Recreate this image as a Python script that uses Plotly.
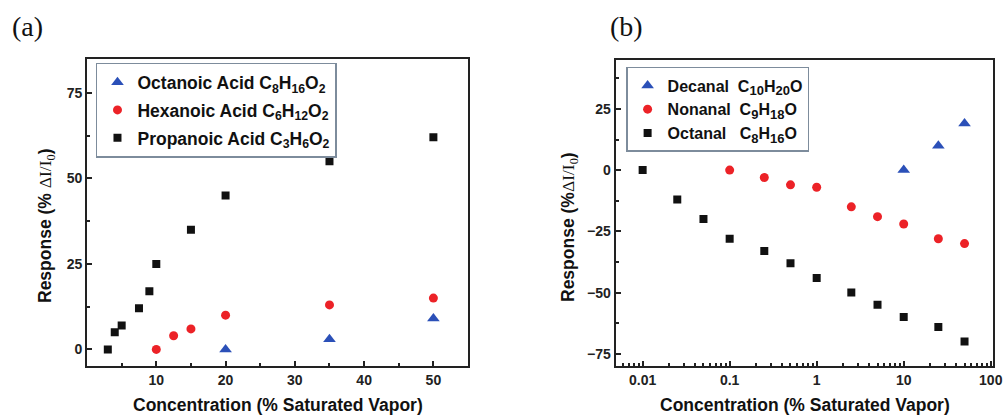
import plotly.graph_objects as go

# ---------------- data: panel (a) ----------------
prop_x = [3, 4, 5, 7.5, 9, 10, 15, 20, 35, 50]
prop_y = [0, 5, 7, 12, 17, 25, 35, 45, 55, 62]
hex_x = [10, 12.5, 15, 20, 35, 50]
hex_y = [0, 4, 6, 10, 13, 15]
oct_acid_x = [20, 35, 50]
oct_acid_y = [0, 3, 9]

# ---------------- data: panel (b) ----------------
octanal_x = [0.01, 0.025, 0.05, 0.1, 0.25, 0.5, 1, 2.5, 5, 10, 25, 50]
octanal_y = [0, -12, -20, -28, -33, -38, -44, -50, -55, -60, -64, -70]
nonanal_x = [0.1, 0.25, 0.5, 1, 2.5, 5, 10, 25, 50]
nonanal_y = [0, -3, -6, -7, -15, -19, -22, -28, -30]
decanal_x = [10, 25, 50]
decanal_y = [0, 10, 19]

a_yticks = [0, 25, 50, 75]
a_xticks = [10, 20, 30, 40, 50]
b_yticks = [-75, -50, -25, 0, 25]
b_xticks = [0.01, 0.1, 1, 10, 100]
b_xticklabels = ["0.01", "0.1", "1", "10", "100"]

BLACK = "#111111"
RED = "#ec2227"
BLUE = "#2b50b8"
FONT = "Arial, Liberation Sans, sans-serif"
SERIF = "Times New Roman, Liberation Serif, serif"

fig = go.Figure()

def add(x, y, name, color, symbol, size, xa, ya, legend, group):
    fig.add_trace(go.Scatter(
        x=x, y=y, mode="markers", name=name,
        marker=dict(color=color, symbol=symbol, size=size, line=dict(width=0)),
        xaxis=xa, yaxis=ya, legend=legend, legendgroup=group,
    ))

def bsub(s):
    return "<sub><span style='font-size:13px'>" + s + "</span></sub>"

add(oct_acid_x, oct_acid_y, "Octanoic Acid C<sub>8</sub>H<sub>16</sub>O<sub>2</sub>", BLUE, "triangle-up", 11, "x", "y", "legend", "a1")
add(hex_x, hex_y, "Hexanoic Acid C<sub>6</sub>H<sub>12</sub>O<sub>2</sub>", RED, "circle", 9, "x", "y", "legend", "a2")
add(prop_x, prop_y, "Propanoic Acid C<sub>3</sub>H<sub>6</sub>O<sub>2</sub>", BLACK, "square", 8, "x", "y", "legend", "a3")

add(decanal_x, decanal_y, "Decanal  C" + bsub("10") + "H" + bsub("20") + "O", BLUE, "triangle-up", 11, "x2", "y2", "legend2", "b1")
add(nonanal_x, nonanal_y, "Nonanal  C" + bsub("9") + "H" + bsub("18") + "O", RED, "circle", 9, "x2", "y2", "legend2", "b2")
add(octanal_x, octanal_y, "Octanal   C" + bsub("8") + "H" + bsub("16") + "O", BLACK, "square", 8, "x2", "y2", "legend2", "b3")

tickfont = dict(family=FONT, size=14, color="#222222", weight="bold")
titlefont = dict(family=FONT, size=17.5, color="#111111", weight="bold")
axline = dict(showline=True, linecolor="#222222", linewidth=2, mirror=True,
              ticks="inside", ticklen=5, tickwidth=1.5, tickcolor="#222222",
              showgrid=False, zeroline=False, tickfont=tickfont, automargin=False)

minor_log = [m * 10.0 ** e for e in range(-3, 2) for m in range(2, 10)]

fig.update_layout(
    width=1005, height=416,
    margin=dict(l=0, r=0, t=0, b=0),
    paper_bgcolor="white", plot_bgcolor="white",
    showlegend=True,
    xaxis=dict(domain=[0.0866, 0.4657], range=[0, 55], anchor="y",
               tickvals=a_xticks,
               minor=dict(dtick=5, ticks="inside", ticklen=3, tickwidth=1.5, tickcolor="#222222"),
               **axline),
    yaxis=dict(domain=[0.119, 0.859], range=[-5, 85], anchor="x",
               tickvals=a_yticks,
               minor=dict(dtick=12.5, ticks="inside", ticklen=3, tickwidth=1.5, tickcolor="#222222"),
               **axline),
    xaxis2=dict(domain=[0.6126, 0.9884], type="log", range=[-2.31, 2.03], anchor="y2",
                tickvals=b_xticks, ticktext=b_xticklabels,
                minor=dict(tickvals=minor_log, ticks="inside", ticklen=3, tickwidth=1.5, tickcolor="#222222"),
                **axline),
    yaxis2=dict(domain=[0.12, 0.856], range=[-80, 45], anchor="x2",
                tickvals=b_yticks,
                minor=dict(dtick=12.5, tick0=0, ticks="inside", ticklen=3, tickwidth=1.5, tickcolor="#222222"),
                **axline),
    legend=dict(x=0.0955, y=0.849, xanchor="left", yanchor="top",
                bgcolor="white", bordercolor="#7d8c9c", borderwidth=1.5,
                font=dict(family=FONT, size=17.5, color="#111111", weight="bold"),
                tracegroupgap=2, traceorder="grouped"),
    legend2=dict(x=0.623, y=0.839, xanchor="left", yanchor="top",
                 bgcolor="white", bordercolor="#7d8c9c", borderwidth=1.5,
                 font=dict(family=FONT, size=16, color="#111111", weight="bold"),
                 tracegroupgap=0, traceorder="grouped"),
)

xtitle = "Concentration (% Saturated Vapor)"
ytitle_a = "Response (% <span style='font-family:Times New Roman, Liberation Serif, serif;font-weight:normal'>ΔI/I<sub>0</sub></span>)"
ytitle_b = "Response (%<span style='font-family:Times New Roman, Liberation Serif, serif;font-weight:normal'>ΔI/I<sub>0</sub></span>)"

fig.add_annotation(text=xtitle, xref="x domain", yref="paper", x=0.5, y=1 - 405 / 416,
                   showarrow=False, font=titlefont, xanchor="center", yanchor="middle")
fig.add_annotation(text=xtitle, xref="x2 domain", yref="paper", x=0.5, y=1 - 405 / 416,
                   showarrow=False, font=titlefont, xanchor="center", yanchor="middle")

fig.add_annotation(text=ytitle_a, xref="paper", yref="paper", x=47 / 1005, y=1 - 226 / 416,
                   textangle=-90, showarrow=False, font=titlefont, xanchor="center", yanchor="middle")
fig.add_annotation(text=ytitle_b, xref="paper", yref="paper", x=570 / 1005, y=1 - 227 / 416,
                   textangle=-90, showarrow=False, font=titlefont, xanchor="center", yanchor="middle")

fig.add_annotation(text="(a)", xref="paper", yref="paper", x=10 / 1005, y=1 - 26 / 416,
                   showarrow=False, xanchor="left", yanchor="middle",
                   font=dict(family=SERIF, size=28, color="#111111"))
fig.add_annotation(text="(b)", xref="paper", yref="paper", x=608 / 1005, y=1 - 26 / 416,
                   showarrow=False, xanchor="left", yanchor="middle",
                   font=dict(family=SERIF, size=28, color="#111111"))

fig.write_html("out.html")
